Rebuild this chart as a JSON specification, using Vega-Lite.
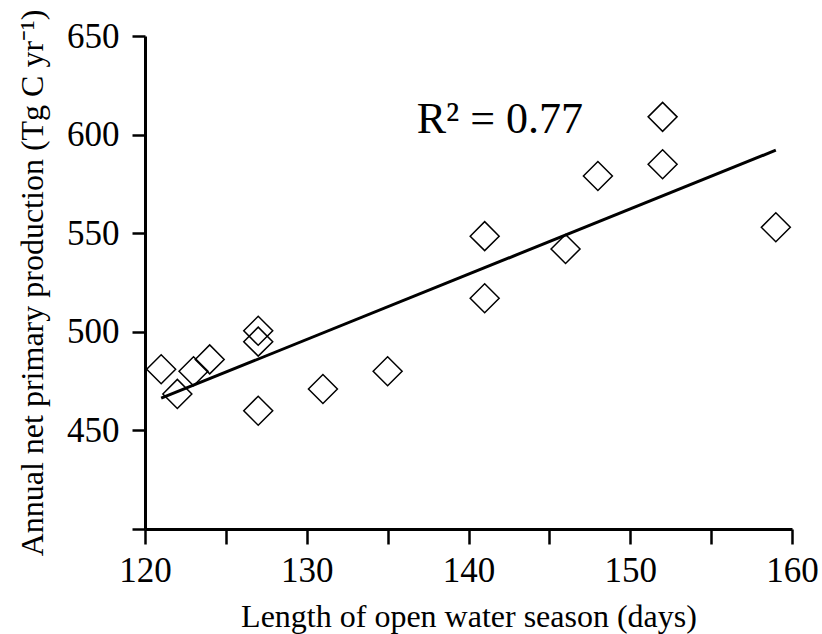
{
  "$schema": "https://vega.github.io/schema/vega-lite/v6.json",
  "width": 647,
  "height": 493,
  "autosize": {"type": "none"},
  "padding": {"left": 145, "top": 36, "right": 30, "bottom": 105},
  "background": "white",
  "config": {
    "view": {"stroke": null},
    "font": "Liberation Serif",
    "axis": {
      "grid": false,
      "domainColor": "black",
      "tickColor": "black",
      "labelColor": "black",
      "titleColor": "black",
      "labelFont": "Liberation Serif",
      "titleFont": "Liberation Serif",
      "labelFontSize": 35,
      "titleFontSize": 32,
      "titleFontWeight": "normal",
      "domainWidth": 3,
      "tickWidth": 2.5,
      "labelFlush": false,
      "labelOverlap": false,
      "labelBound": false
    }
  },
  "data": {
    "values": [
      {"days": 121, "npp": 481},
      {"days": 122, "npp": 468.5},
      {"days": 123, "npp": 480},
      {"days": 124, "npp": 486},
      {"days": 127, "npp": 500.5},
      {"days": 127, "npp": 495},
      {"days": 127, "npp": 460},
      {"days": 131, "npp": 471},
      {"days": 135, "npp": 480},
      {"days": 141, "npp": 548.5},
      {"days": 141, "npp": 517},
      {"days": 146, "npp": 542},
      {"days": 148, "npp": 579},
      {"days": 152, "npp": 609},
      {"days": 152, "npp": 585},
      {"days": 159, "npp": 553}
    ]
  },
  "layer": [
    {
      "mark": {"type": "point", "shape": "diamond", "filled": false, "stroke": "black", "strokeWidth": 1.5, "size": 840, "opacity": 1},
      "encoding": {
        "x": {
          "field": "days", "type": "quantitative",
          "scale": {"domain": [120, 160], "nice": false, "zero": false},
          "axis": {
            "values": [120, 125, 130, 135, 140, 145, 150, 155, 160],
            "labelExpr": "datum.value % 10 === 0 ? datum.label : ''",
            "tickSize": 15,
            "labelPadding": 9,
            "title": "Length of open water season (days)",
            "titleBaseline": "alphabetic",
            "titleY": 97,
            "titleX": 323.5,
            "titleAlign": "center"
          }
        },
        "y": {
          "field": "npp", "type": "quantitative",
          "scale": {"domain": [400, 650], "nice": false, "zero": false},
          "axis": {
            "values": [400, 450, 500, 550, 600, 650],
            "labelExpr": "datum.value === 400 ? '' : datum.label",
            "tickSize": 13,
            "labelPadding": 13,
            "title": "Annual net primary production (Tg C yr⁻¹)",
            "titleAngle": -90,
            "titleBaseline": "alphabetic",
            "titleAlign": "center",
            "titleX": -103,
            "titleY": 246.5
          }
        }
      }
    },
    {
      "transform": [{"regression": "npp", "on": "days"}],
      "mark": {"type": "line", "color": "black", "strokeWidth": 3},
      "encoding": {
        "x": {"field": "days", "type": "quantitative"},
        "y": {"field": "npp", "type": "quantitative"}
      }
    },
    {
      "data": {"values": [{"days": 136.8, "npp": 601, "label": "R² = 0.77"}]},
      "mark": {"type": "text", "align": "left", "baseline": "alphabetic", "fontSize": 44, "font": "Liberation Serif", "color": "black"},
      "encoding": {
        "x": {"field": "days", "type": "quantitative"},
        "y": {"field": "npp", "type": "quantitative"},
        "text": {"field": "label"}
      }
    }
  ]
}
